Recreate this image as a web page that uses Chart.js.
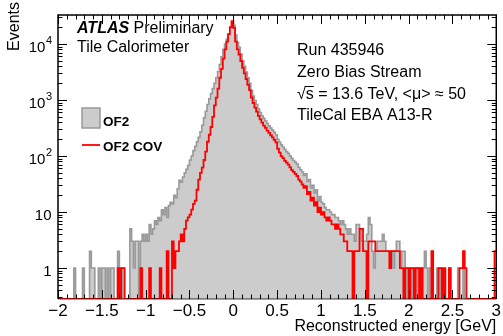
<!DOCTYPE html>
<html>
<head>
<meta charset="utf-8">
<script src="https://cdn.jsdelivr.net/npm/chart.js@4.4.0/dist/chart.umd.min.js"></script>
<style>
  html, body { margin: 0; padding: 0; background: #fff; }
  #wrap { width: 503px; height: 336px; }
</style>
</head>
<body>
<div id="wrap"><canvas id="chart" width="503" height="336"></canvas></div>
<script>
// histogram binning (GeV): 250 bins from -2 to 3
const binLow = -2;
const binWidth = 0.02;

// OF2 counts per bin
const of2Counts = [
  0,0,0,0,0,0,0,0,0,1, 0,0,0,0,1,0,0,0,2,1, 1,0,0,1,0,
  1,1,0,1,0,1,1,0,0,2, 1,1,0,0,0,0,5,3,1,3, 3,0,3,4,3,
  4,3,6,4,5,7,6,8,7,11, 9,12,8,13,15,14,20,18,26,37, 34,42,50,58,68,
  85,100,125,150,180,215,270,355,480,630, 830,1050,1300,1600,2000,2500,3200,4300,5900,8000, 10000,12300,15000,19500,24500,
  21500,14500,10700,8700,6600,5000,4000,3150,2500,2000, 1480,1180,980,830,690,600,525,470,425,380, 345,315,290,265,240,
  200,178,158,145,132,120,112,100,91,83, 78,72,63,57,52,45,48,35,38,27, 30,22,25,16,19,
  15,14,12,11,11,10,9,9,8,8, 7,6,7,6,5,4,5,4,4,3, 6,6,5,3,3,
  3,4,8,6,2,1,2,3,3,3, 4,3,2,2,2,2,1,2,3,3, 1,2,2,0,1,
  1,1,0,1,1,0,1,1,1,2, 1,0,1,1,0,0,1,0,1,0, 0,0,0,1,0,
  0,0,0,1,0,0,1,0,0,0, 0,0,0,0,0,0,0,0,0,0, 0,0,0,0,0
];

// OF2 COV counts per bin
const of2CovCounts = [
  0,0,0,0,0,0,0,0,0,0, 0,0,0,0,0,0,0,0,0,0, 0,0,0,0,0,
  0,0,0,0,0,0,0,0,0,1, 0,1,1,0,0,0,0,0,0,0, 0,0,1,0,0,
  0,0,1,0,0,0,0,0,1,0, 0,0,2,0,0,3,1,2,2,3, 4,3,5,7,8,
  9,11,14,16,25,38,50,62,85,120, 180,240,330,500,800,1100,1600,2500,3600,5500, 8000,11000,15000,20000,25500,
  19500,11000,8000,6500,4950,3750,3000,2360,1870,1500, 1110,885,735,620,520,450,395,350,320,285, 260,235,215,195,175,
  135,115,100,92,82,76,70,63,56,52, 48,44,38,35,31,27,29,21,23,16, 18,13,15,10,12,
  9,10,8,7,8,7,6,6,5,6, 5,4,4,3,3,2,2,2,0,2, 2,2,5,5,2,
  2,0,3,3,3,3,2,2,2,2, 2,2,2,2,1,2,2,2,2,2, 1,1,0,1,1,
  0,1,1,0,1,1,0,1,0,0, 0,0,0,2,0,0,0,1,1,0, 1,0,0,1,0,
  0,0,0,0,1,1,2,1,0,0, 0,0,0,0,0,0,0,0,0,0, 0,0,0,0,2
];

const xMin = -2, xMax = 3, xMinorStep = 0.1;
const yMin = 0.28, yMax = 33000;
const xTickValues = [-2, -1.5, -1, -0.5, 0, 0.5, 1, 1.5, 2, 2.5, 3];
const xTickLabels = ['\u22122', '\u22121.5', '\u22121', '\u22120.5', '0', '0.5', '1', '1.5', '2', '2.5', '3'];
const yTickValues = [1, 10, 100, 1000, 10000];
const yTickBase = ['1', '10', '10', '10', '10'];
const yTickExp = ['', '', '2', '3', '4'];
const seriesLabels = ['OF2', 'OF2 COV'];
const infoLines = ['Run 435946', 'Zero Bias Stream', '\u221As = 13.6 TeV, <\u03BC> \u2248 50', 'TileCal EBA A13-R'];

const FONT = "'Liberation Sans', Arial, Helvetica, sans-serif";

// bin lower edges + closing edge, empty bins sit on the axis floor
function toPoints(counts) {
  const pts = counts.map((c, i) => ({ x: binLow + i * binWidth, y: c > 0 ? c : yMin }));
  const last = counts[counts.length - 1];
  pts.push({ x: binLow + counts.length * binWidth, y: last > 0 ? last : yMin });
  return pts;
}

const framePlugin = {
  id: 'rootFrame',
  afterDraw(chart) {
    const { ctx, chartArea: a, scales } = chart;
    const x = scales.x, y = scales.y;
    ctx.save();

    // frame (bottom edge lets the red empty-bin line show through)
    ctx.lineWidth = 1.5;
    ctx.strokeStyle = '#000';
    ctx.beginPath();
    ctx.moveTo(a.left, a.bottom); ctx.lineTo(a.left, a.top);
    ctx.lineTo(a.right, a.top); ctx.lineTo(a.right, a.bottom);
    ctx.stroke();
    ctx.strokeStyle = 'rgba(0,0,0,0.5)';
    ctx.beginPath();
    ctx.moveTo(a.left, a.bottom); ctx.lineTo(a.right, a.bottom);
    ctx.stroke();

    // tick marks on all four sides
    ctx.strokeStyle = '#000';
    ctx.lineWidth = 1;
    ctx.beginPath();
    const nx = Math.round((xMax - xMin) / xMinorStep);
    for (let k = 0; k <= nx; k++) {
      const v = xMin + k * xMinorStep;
      const px = Math.round(x.getPixelForValue(v)) + 0.5;
      const len = k % 5 === 0 ? 9 : 4.5;
      ctx.moveTo(px, a.bottom); ctx.lineTo(px, a.bottom - len);
      ctx.moveTo(px, a.top); ctx.lineTo(px, a.top + len);
    }
    for (let e = -1; e <= 4; e++) {
      for (let m = 1; m <= 9; m++) {
        const v = m * Math.pow(10, e);
        if (v < yMin || v > yMax) continue;
        const py = Math.round(y.getPixelForValue(v)) + 0.5;
        const len = m === 1 ? 9 : 4.5;
        ctx.moveTo(a.left, py); ctx.lineTo(a.left + len, py);
        ctx.moveTo(a.right, py); ctx.lineTo(a.right - len, py);
      }
    }
    ctx.stroke();

    // y tick labels with exponents
    ctx.fillStyle = '#000';
    ctx.textBaseline = 'alphabetic';
    yTickValues.forEach((v, i) => {
      const py = y.getPixelForValue(v);
      const xe = a.left - 6;
      let expW = 0;
      if (yTickExp[i]) {
        ctx.font = `11px ${FONT}`;
        expW = ctx.measureText(yTickExp[i]).width;
        ctx.textAlign = 'left';
        ctx.fillText(yTickExp[i], xe - expW, py - 0.5);
      }
      ctx.font = `15px ${FONT}`;
      ctx.textAlign = 'right';
      ctx.fillText(yTickBase[i], xe - expW - 0.5, py + 7.5);
    });

    // axis titles
    ctx.font = `16px ${FONT}`;
    ctx.textAlign = 'right';
    ctx.fillText('Reconstructed energy [GeV]', a.right, 331);
    ctx.save();
    ctx.translate(18.5, 2);
    ctx.rotate(-Math.PI / 2);
    ctx.textAlign = 'right';
    ctx.fillText('Events', 0, 0);
    ctx.restore();

    // ATLAS label
    ctx.textAlign = 'left';
    ctx.font = `bold italic 16px ${FONT}`;
    ctx.fillText('ATLAS', 77, 33);
    const aw = ctx.measureText('ATLAS').width;
    ctx.font = `16px ${FONT}`;
    ctx.fillText(' Preliminary', 77 + aw, 33);
    ctx.fillText('Tile Calorimeter', 77, 51.5);

    // run info
    const baselines = [55, 77, 98.5, 120];
    infoLines.forEach((t, i) => ctx.fillText(t, 297, baselines[i]));
    // bar of the square root
    const rw = ctx.measureText('\u221A').width;
    const sw = ctx.measureText('s').width;
    ctx.lineWidth = 1;
    ctx.beginPath();
    ctx.moveTo(297 + rw - 1, 86.5);
    ctx.lineTo(297 + rw + sw, 86.5);
    ctx.stroke();

    // legend
    ctx.fillStyle = '#cccccc';
    ctx.fillRect(82, 108, 18, 20);
    ctx.strokeStyle = '#999999';
    ctx.lineWidth = 1.5;
    ctx.strokeRect(82, 108, 18, 20);
    ctx.strokeStyle = '#ff0000';
    ctx.lineWidth = 1.8;
    ctx.beginPath();
    ctx.moveTo(82, 145); ctx.lineTo(100, 145);
    ctx.stroke();
    ctx.fillStyle = '#000';
    ctx.font = `bold 13.5px ${FONT}`;
    ctx.fillText(seriesLabels[0], 103, 126);
    ctx.fillText(seriesLabels[1], 103, 151);

    ctx.restore();
  }
};

const ctx = document.getElementById('chart').getContext('2d');
new Chart(ctx, {
  type: 'line',
  data: {
    datasets: [
      {
        label: seriesLabels[1],
        data: toPoints(of2CovCounts),
        stepped: true,
        borderColor: '#ff0000',
        borderWidth: 1.8,
        pointRadius: 0,
        fill: false,
        order: 0
      },
      {
        label: seriesLabels[0],
        data: toPoints(of2Counts),
        stepped: true,
        borderColor: '#999999',
        backgroundColor: '#cccccc',
        borderWidth: 1.6,
        pointRadius: 0,
        fill: 'start',
        order: 1
      }
    ]
  },
  options: {
    responsive: false,
    animation: false,
    events: [],
    layout: { padding: { left: 0, right: 6, top: 15, bottom: 0 } },
    plugins: { legend: { display: false }, tooltip: { enabled: false } },
    scales: {
      x: {
        type: 'linear',
        min: xMin,
        max: xMax,
        afterFit: (s) => { s.height = 37; },
        afterBuildTicks: (s) => { s.ticks = xTickValues.map(v => ({ value: v })); },
        grid: { display: false, drawTicks: false },
        border: { display: false },
        ticks: {
          callback: (v, i) => xTickLabels[i],
          font: { family: FONT, size: 17 },
          color: '#000',
          padding: 2,
          maxRotation: 0,
          autoSkip: false
        }
      },
      y: {
        type: 'logarithmic',
        min: yMin,
        max: yMax,
        afterFit: (s) => { s.width = 58; },
        grid: { display: false, drawTicks: false },
        border: { display: false },
        ticks: { display: false }
      }
    }
  },
  plugins: [framePlugin]
});
</script>
</body>
</html>
